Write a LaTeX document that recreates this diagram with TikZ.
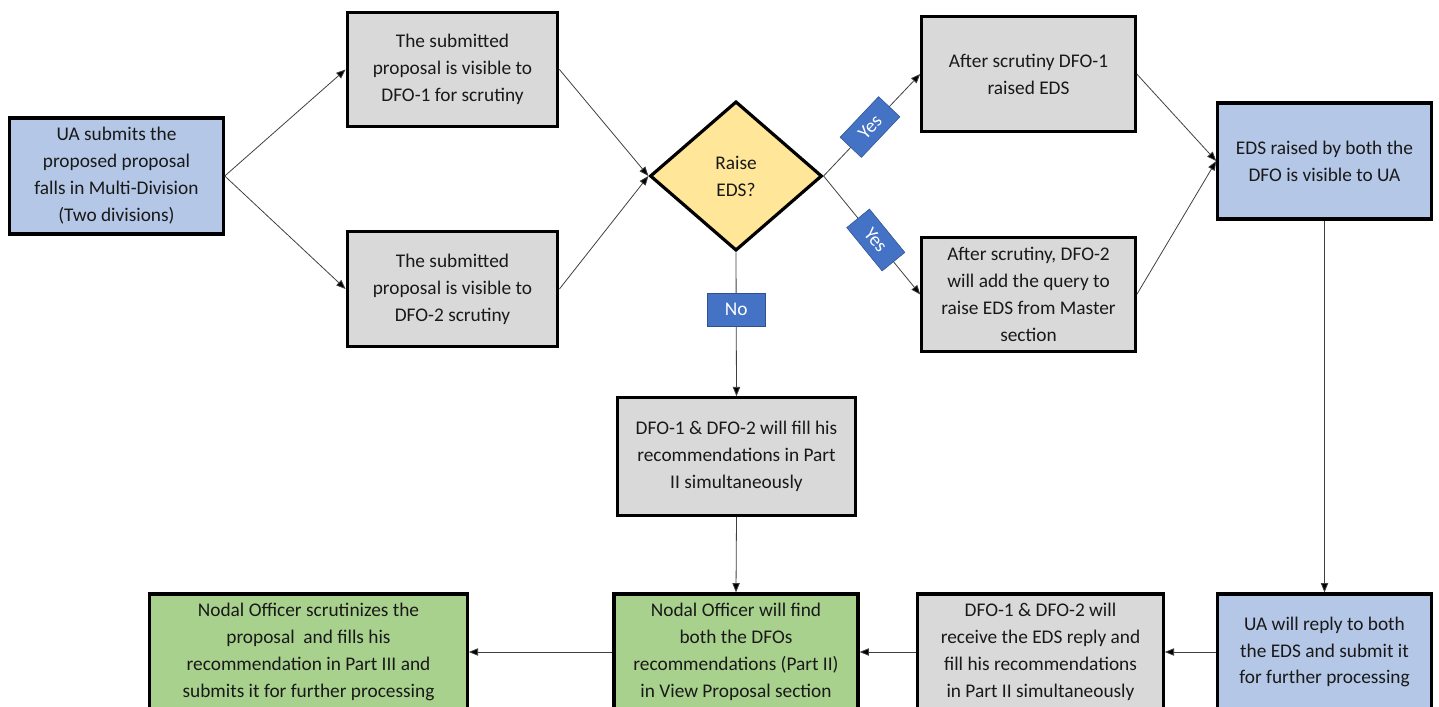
\documentclass[tikz,border=0pt]{standalone}
\usepackage{fontspec}
\setmainfont{Carlito}
\usetikzlibrary{arrows.meta,shapes.geometric}
\definecolor{cblue}{HTML}{B4C7E7}
\definecolor{cgray}{HTML}{D9D9D9}
\definecolor{cyel}{HTML}{FFE699}
\definecolor{cgreen}{HTML}{A9D18E}
\definecolor{lblue}{HTML}{4472C4}
\definecolor{lborder}{HTML}{2F528F}
\definecolor{cline}{HTML}{404040}
\tikzset{
  box/.style={draw=black, line width=2.4pt, align=center, inner sep=2pt,
    font=\fontsize{14.5}{20.2}\selectfont, text=black!90},
  bluebox/.style={box, fill=cblue},
  graybox/.style={box, fill=cgray},
  greenbox/.style={box, fill=cgreen},
  decision/.style={box, diamond, fill=cyel, inner sep=0pt},
  arr/.style={draw=cline, line width=0.6pt, -{Triangle[length=7pt,width=5.5pt,fill=black]}},
  lab/.style={fill=lblue, draw=lborder, line width=0.4pt, text=white,
    font=\fontsize{14.5}{16}\selectfont, minimum width=42pt, minimum height=22pt, inner sep=1pt},
}
\begin{document}
\begin{tikzpicture}[x=0.75pt,y=-0.75pt]
\useasboundingbox (0,0) rectangle (1439,707);
\node[bluebox, minimum width=160pt, minimum height=87pt] (ua) at (116.5,176)
  {UA submits the\\proposed proposal\\falls in Multi-Division\\(Two divisions)};
\node[graybox, minimum width=158pt, minimum height=86pt] (b1) at (452.5,69.5)
  {The submitted\\proposal is visible to\\DFO-1 for scrutiny};
\node[graybox, minimum width=158pt, minimum height=86pt] (b2) at (452.5,289)
  {The submitted\\proposal is visible to\\DFO-2 scrutiny};
\node[decision, minimum width=129pt, minimum height=112pt] (d) at (736,176)
  {Raise\\EDS?};
\node[graybox, minimum width=160pt, minimum height=86pt] (t1) at (1028.5,74)
  {After scrutiny DFO-1\\raised EDS};
\node[graybox, minimum width=160pt, minimum height=86pt] (t2) at (1028.5,294.5)
  {After scrutiny, DFO-2\\will add the query to\\raise EDS from Master\\section};
\node[bluebox, minimum width=160pt, minimum height=87pt] (eds) at (1324.5,161)
  {EDS raised by both the\\DFO is visible to UA};
\node[graybox, minimum width=179pt, minimum height=88pt] (fill) at (736.5,456.5)
  {DFO-1 \& DFO-2 will fill his\\recommendations in Part\\II simultaneously};
\node[greenbox, minimum width=238pt, minimum height=87pt] (ns) at (308.5,652)
  {Nodal Officer scrutinizes the\\proposal\ \ and fills his\\recommendation in Part III and\\submits it for further processing};
\node[greenbox, minimum width=183pt, minimum height=87pt] (nf) at (736,652)
  {Nodal Officer will find\\both the DFOs\\recommendations (Part II)\\in View Proposal section};
\node[graybox, minimum width=184pt, minimum height=87pt] (dr) at (1040.5,652)
  {DFO-1 \& DFO-2 will\\receive the EDS reply and\\fill his recommendations\\in Part II simultaneously};
\node[bluebox, minimum width=160pt, minimum height=87pt] (ur) at (1324.5,652)
  {UA will reply to both\\the EDS and submit it\\for further processing};

\draw[arr] (ua.east) -- (b1.west);
\draw[arr] (ua.east) -- (b2.west);
\draw[arr] (b1.east) -- (d.west);
\draw[arr] (b2.east) -- (d.west);
\draw[arr] (d.east) -- node[lab, sloped, pos=0.48] {Yes} (t1.west);
\draw[arr] (d.east) -- node[lab, sloped, pos=0.54] {Yes} (t2.west);
\draw[arr] (t1.east) -- (eds.west);
\draw[arr] (t2.east) -- (eds.west);
\draw[arr] (d.south) -- node[lab, pos=0.4, minimum width=43pt, minimum height=25pt] {No} (fill.north);
\draw[arr] (fill.south) -- (nf.north);
\draw[arr] (eds.south) -- (ur.north);
\draw[arr] (ur.west) -- (dr.east);
\draw[arr] (dr.west) -- (nf.east);
\draw[arr] (nf.west) -- (ns.east);
\end{tikzpicture}
\end{document}
